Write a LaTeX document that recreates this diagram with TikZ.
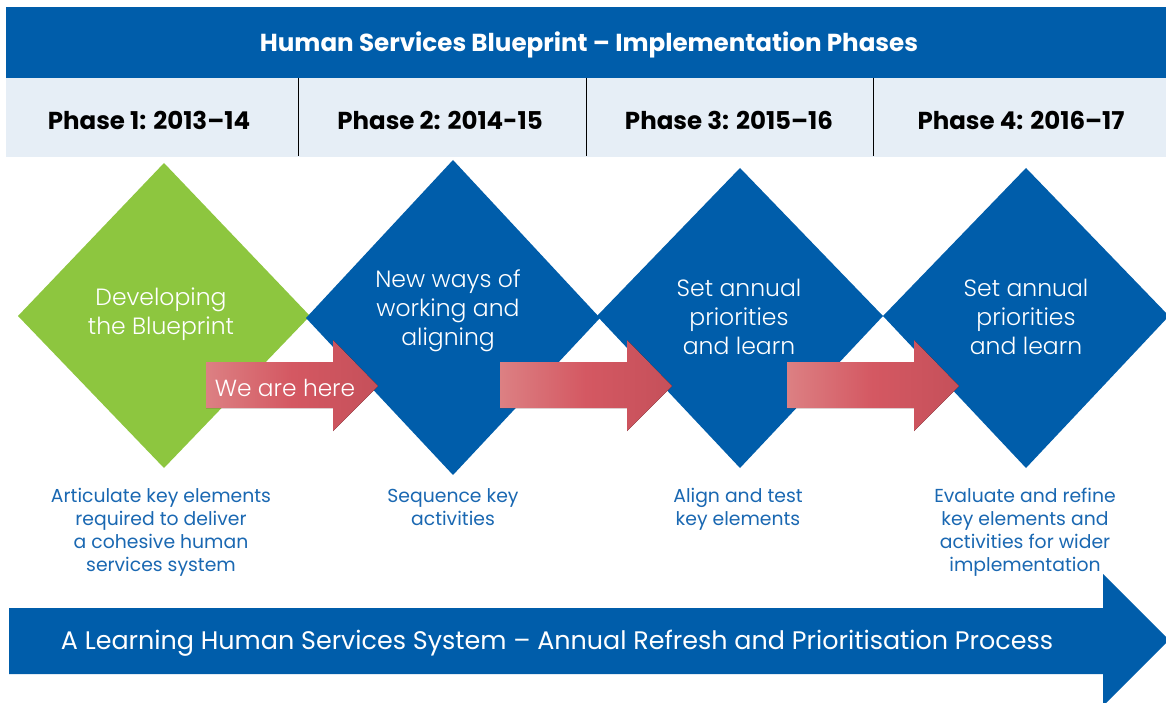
\documentclass[tikz,border=0pt]{standalone}
\usepackage{fontspec}
\setmainfont{Poppins}
\newfontfamily\lightfont{Poppins}[UprightFont={* Light}]
\usetikzlibrary{positioning}
\definecolor{hsblue}{HTML}{005DAA}
\definecolor{hsgreen}{HTML}{8DC63F}
\definecolor{hslight}{HTML}{E6EEF6}
\definecolor{capblue}{HTML}{1A68B2}
\definecolor{redl}{HTML}{DC8083}
\definecolor{redm}{HTML}{D45862}
\definecolor{redr}{HTML}{C5505A}
\tikzset{
  title/.style={font=\bfseries\fontsize{24.6}{28}\selectfont, text=white},
  phase/.style={font=\bfseries\fontsize{24.5}{28}\selectfont, text=black},
  dtext/.style={font=\lightfont\fontsize{23.5}{28.8}\selectfont, text=white, align=center},
  captext/.style={font=\fontsize{18.8}{23}\selectfont, text=capblue, align=center, anchor=north},
  redarrow/.style={left color=redl, right color=redr, middle color=redm, draw=none},
}
\begin{document}
\begin{tikzpicture}[x=1pt,y=-1pt]
\useasboundingbox (0,0) rectangle (1166,703);
\fill[white] (0,0) rectangle (1166,703);
% header
\fill[hsblue] (6,7) rectangle (1166,78);
\node[title] (hdr) at (589,45) {Human Services Blueprint – Implementation Phases};
\fill[hslight] (6,78) rectangle (1166,157);
\draw[black, line width=0.8pt] (298,78) -- (298,156);
\draw[black, line width=0.8pt] (586,78) -- (586,156);
\draw[black, line width=0.8pt] (873,78) -- (873,156);
\node[phase] (p1) at (149,120) {Phase 1: 2013–14};
\node[phase] (p2) at (440,120) {Phase 2: 2014-15};
\node[phase] (p3) at (729,120) {Phase 3: 2015–16};
\node[phase] (p4) at (1021,120) {Phase 4: 2016–17};
% diamonds
\fill[hsgreen] (164,163) -- (310,316) -- (164,468) -- (18,316) -- cycle;
\fill[hsblue] (453,160) -- (600,318) -- (453,475) -- (306,318) -- cycle;
\fill[hsblue] (740,168) -- (883,316) -- (740,468) -- (597,316) -- cycle;
\fill[hsblue] (1026,168) -- (1169,316) -- (1026,468) -- (883,316) -- cycle;
% red arrows
\fill[redarrow] (206,362) -- (333,362) -- (333,340) -- (378,386) -- (333,431) -- (333,408) -- (206,408) -- cycle;
\fill[redarrow] (500,362) -- (627,362) -- (627,340) -- (672,386) -- (627,431) -- (627,408) -- (500,408) -- cycle;
\fill[redarrow] (787,362) -- (914,362) -- (914,340) -- (959,386) -- (914,431) -- (914,408) -- (787,408) -- cycle;
% diamond texts
\node[dtext] (d1) at (161,314) {Developing\\the Blueprint};
\node[dtext] (d2) at (448,311) {New ways of\\working and\\aligning};
\node[dtext] (d3) at (739,317) {Set annual\\priorities\\and learn};
\node[dtext] (d4) at (1026,317) {Set annual\\priorities\\and learn};
\node[font=\lightfont\fontsize{23.3}{26}\selectfont, text=white] (here) at (285,388) {We are here};
% captions
\node[captext] (c1) at (161,485) {Articulate key elements\\required to deliver\\a cohesive human\\services system};
\node[captext] (c2) at (453,485) {Sequence key\\activities};
\node[captext] (c3) at (738,485) {Align and test\\key elements};
\node[captext] (c4) at (1025,485) {Evaluate and refine\\key elements and\\activities for wider\\implementation};
% bottom arrow
\fill[hsblue] (9,608) -- (1103,608) -- (1103,574) -- (1169,640) -- (1103,706) -- (1103,674) -- (9,674) -- cycle;
\node[font=\fontsize{25.4}{28}\selectfont, text=white] (learn) at (557,643) {A Learning Human Services System – Annual Refresh and Prioritisation Process};
\end{tikzpicture}
\end{document}
